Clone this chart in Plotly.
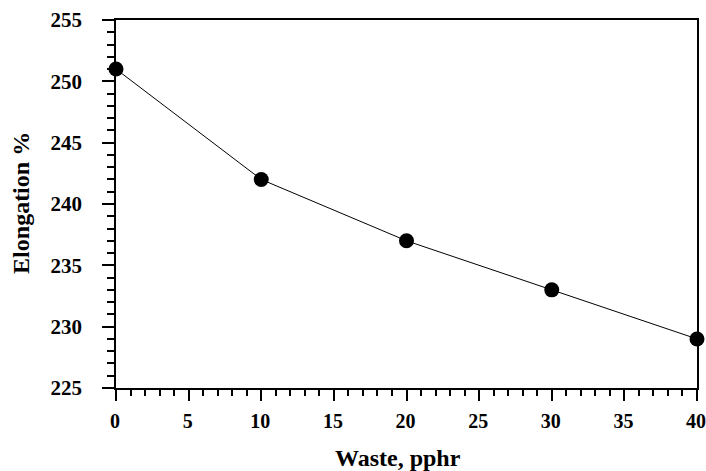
import plotly.graph_objects as go

waste = [0, 10, 20, 30, 40]
elongation = [251, 242, 237, 233, 229]

x_ticks = [0, 5, 10, 15, 20, 25, 30, 35, 40]
y_ticks = [225, 230, 235, 240, 245, 250, 255]

FONT = "Liberation Serif"

fig = go.Figure()
fig.add_trace(go.Scatter(
    x=waste, y=elongation, mode="lines+markers",
    line=dict(color="black", width=1),
    marker=dict(color="black", size=15),
    cliponaxis=False, showlegend=False,
))

fig.update_layout(
    width=706, height=471,
    margin=dict(l=116, r=9, t=20, b=83, autoexpand=False),
    paper_bgcolor="white", plot_bgcolor="white",
    font=dict(family=FONT, color="black"),
)
fig.update_xaxes(
    range=[0, 40], tickvals=x_ticks, ticktext=[str(v) for v in x_ticks],
    showgrid=False, zeroline=False, automargin=False,
    showline=True, linecolor="black", linewidth=1.5, mirror=True,
    ticks="outside", ticklen=11, tickwidth=1.5, tickcolor="black",
    minor=dict(dtick=1, tick0=0, ticks="outside", ticklen=6, tickwidth=1.5, tickcolor="black"),
    tickfont=dict(family=FONT, size=20, weight="bold"),
    ticklabelstandoff=3, ticklabeloverflow="allow", ticklabelshift=-1,
)
fig.update_yaxes(
    range=[225, 255], tickvals=y_ticks, ticktext=[str(v) for v in y_ticks],
    showgrid=False, zeroline=False, automargin=False,
    showline=True, linecolor="black", linewidth=1.5, mirror=True,
    ticks="outside", ticklen=12, tickwidth=1.5, tickcolor="black",
    minor=dict(dtick=1, tick0=225, ticks="outside", ticklen=7, tickwidth=1.5, tickcolor="black"),
    tickfont=dict(family=FONT, size=21, weight="bold"),
    ticklabelstandoff=16,
)
fig.add_annotation(
    text="Waste, pphr", xref="paper", yref="paper", x=0.485, y=0,
    yshift=-70, xanchor="center", yanchor="middle", showarrow=False,
    font=dict(family=FONT, size=24, weight="bold"),
)
fig.add_annotation(
    text="Elongation %", xref="paper", yref="paper", x=0, y=0.503,
    xshift=-95, xanchor="center", yanchor="middle", showarrow=False, textangle=-90,
    font=dict(family=FONT, size=24, weight="bold"),
)

fig.write_html(
    "out.html",
    config={"displayModeBar": False},
    post_script="document.body.style.margin='0';document.documentElement.style.overflow='hidden';",
)
